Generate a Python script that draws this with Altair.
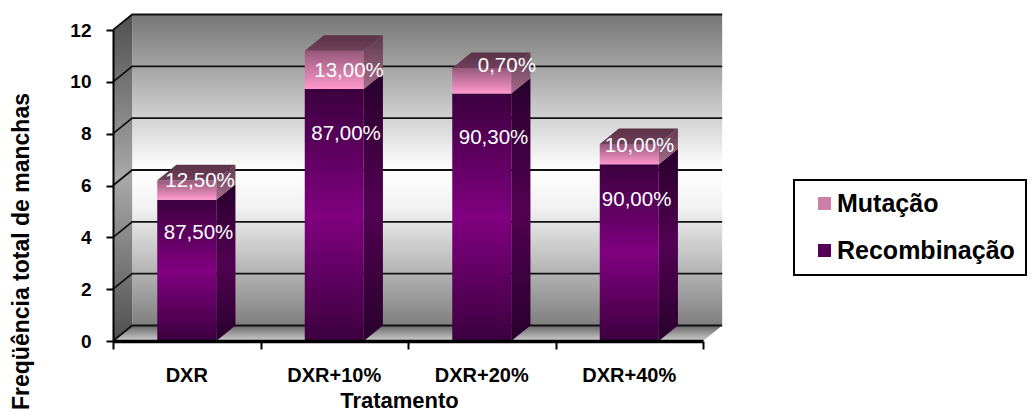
import altair as alt
import pandas as pd

categories = ["DXR", "DXR+10%", "DXR+20%", "DXR+40%"]
recombinacao = [5.45, 9.72, 9.55, 6.82]
mutacao = [0.75, 1.48, 0.98, 0.78]
rec_labels = ["87,50%", "87,00%", "90,30%", "90,00%"]
mut_labels = ["12,50%", "13,00%", "0,70%", "10,00%"]
rec_label_at = [4.17, 7.99, 7.84, 5.44]
mut_label_at = [6.18, 10.42, 10.6, 7.53]
rec_label_shift = [0.08, 0.08, 0.08, 0.05]
mut_label_shift = [0.09, 0.10, 0.17, 0.07]
y_ticks = [0, 2, 4, 6, 8, 10, 12]
x_ticks = [0, 1, 2, 3, 4]
legend_names = ["Mutação", "Recombinação"]

DX, DY = 0.13, 0.598
BL, BR = 0.30, 0.70
FONT = "Liberation Sans"
xs = alt.Scale(domain=[0, 4], nice=False, zero=False)
ys = alt.Scale(domain=[0, 12], nice=False)


def grad(*stops):
    return alt.Gradient(
        gradient="linear", x1=0, x2=0, y1=0, y2=1,
        stops=[alt.GradientStop(offset=o, color=c) for o, c in stops],
    )


def X(**k):
    return alt.X("x:Q", scale=xs, **k)


def Y(**k):
    return alt.Y("y:Q", scale=ys, stack=None, **k)


def area(rows, fill):
    return alt.Chart(pd.DataFrame(rows)).mark_area(color=fill, interpolate="linear", clip=False).encode(
        x=X(), y=Y(), y2="y2:Q", detail="id:N"
    )


def rect(rows, fill):
    return alt.Chart(pd.DataFrame(rows)).mark_rect(color=fill).encode(
        x=X(), x2="x2:Q", y=Y(), y2="y2:Q"
    )


# legend carrier + axes, hidden behind the back wall
legend_df = pd.DataFrame({"x": [1.0, 1.0], "y": [6.0, 6.0], "s": legend_names})
axes = alt.Chart(legend_df).mark_square(size=4, opacity=1).encode(
    x=alt.X("x:Q", scale=xs, axis=alt.Axis(
        values=x_ticks, labels=False, tickSize=8, tickWidth=2, tickColor="#000",
        domainColor="#000", domainWidth=3.5, grid=False, zindex=1,
        title="Tratamento", titleFont=FONT, titleFontSize=22, titleFontWeight="bold",
        titleColor="#000", titleX=286, titleY=66, titleBaseline="alphabetic", titleAnchor="middle", titleAlign="center")),
    y=alt.Y("y:Q", scale=ys, axis=alt.Axis(
        values=y_ticks, format="d", tickSize=7, tickWidth=2, tickColor="#000",
        domainColor="#000", domainWidth=2, grid=False, zindex=1,
        labelFont=FONT, labelFontSize=19, labelFontWeight="bold", labelColor="#000", labelPadding=15,
        title="Freqüência total de manchas", titleFont=FONT, titleFontSize=23, titleFontWeight="bold",
        titleColor="#000", titleX=-85, titleY=221, titleAngle=270, titleBaseline="alphabetic",
        titleAnchor="middle", titleAlign="center")),
    color=alt.Color("s:N", scale=alt.Scale(domain=legend_names, range=["#c97fa6", "#560058"]),
        legend=alt.Legend(
            title=None, orient="none", legendX=681, legendY=150, strokeColor="#000",
            fillColor="#fff", padding=11, symbolType="square", symbolSize=170, symbolOffset=7,
            labelFont=FONT, labelFontSize=25, labelFontWeight="bold", labelColor="#000",
            labelOffset=0, rowPadding=21, labelLimit=300, symbolStrokeWidth=0)),
)

wall_grad = grad((0, "#767676"), (0.5, "#ffffff"), (0.62, "#f2f2f2"), (1, "#7f7f7f"))
side_wall_grad = grad((0, "#505050"), (0.5, "#a8a8a8"), (1, "#505050"))
floor_grad = grad((0, "#666666"), (1, "#cfcfcf"))

back = rect([{"x": DX, "x2": 4 + DX, "y": DY, "y2": 12 + DY}], wall_grad)
left = area([
    {"id": "l", "x": 0, "y": 0, "y2": 12},
    {"id": "l", "x": DX, "y": DY, "y2": 12 + DY},
], side_wall_grad)
floor = area([
    {"id": "f", "x": 0, "y": 0, "y2": 0},
    {"id": "f", "x": DX, "y": 0, "y2": DY},
    {"id": "f", "x": 4, "y": 0, "y2": DY},
    {"id": "f", "x": 4 + DX, "y": DY, "y2": DY},
], floor_grad)

grid_rows = []
for v in y_ticks:
    grid_rows += [
        {"id": v, "x": 0, "y": v},
        {"id": v, "x": DX, "y": v + DY},
        {"id": v, "x": 4 + DX, "y": v + DY},
    ]
grid = alt.Chart(pd.DataFrame(grid_rows)).mark_line(color="#111", strokeWidth=1.8).encode(
    x=X(), y=Y(), detail="id:N"
)

layers = [axes, back, left, floor, grid]

for i, (r, m) in enumerate(zip(recombinacao, mutacao)):
    a, b = i + BL, i + BR
    t = r + m
    layers += [
        rect([{"x": a, "x2": b, "y": 0, "y2": r}],
             grad((0, "#3c003e"), (0.5, "#800080"), (1, "#3c003e"))),
        area([{"id": "s", "x": b, "y": 0, "y2": r},
              {"id": "s", "x": b + DX, "y": DY, "y2": r + DY}],
             grad((0, "#28002c"), (0.5, "#520052"), (1, "#28002c"))),
        rect([{"x": a, "x2": b, "y": r, "y2": t}],
             grad((0, "#96587a"), (1, "#ff99cc"))),
        area([{"id": "s", "x": b, "y": r, "y2": t},
              {"id": "s", "x": b + DX, "y": r + DY, "y2": t + DY}],
             grad((0, "#5c3a4c"), (1, "#a86c8c"))),
        area([{"id": "t", "x": a, "y": t, "y2": t},
              {"id": "t", "x": a + DX, "y": t, "y2": t + DY},
              {"id": "t", "x": b, "y": t, "y2": t + DY},
              {"id": "t", "x": b + DX, "y": t + DY, "y2": t + DY}],
             grad((0, "#5a3246"), (1, "#70405a"))),
    ]

label_df = pd.DataFrame({
    "x": [i + 0.5 + s for i, s in enumerate(rec_label_shift)] + [i + 0.5 + s for i, s in enumerate(mut_label_shift)],
    "y": rec_label_at + mut_label_at,
    "t": rec_labels + mut_labels,
})
labels = alt.Chart(label_df).mark_text(
    font=FONT, fontSize=20.5, color="#fff", align="center", baseline="middle"
).encode(x=X(), y=Y(), text="t:N")

cat_df = pd.DataFrame({"x": [i + 0.5 for i in range(len(categories))], "t": categories})
cats = alt.Chart(cat_df).mark_text(
    font=FONT, fontSize=20, fontWeight="bold", color="#000", align="center", baseline="middle"
).encode(x=X(), y=alt.value(346), text="t:N")

chart = alt.layer(*layers, labels, cats).properties(
    width=590, height=311,
    padding={"left": 105, "top": 22, "right": 324, "bottom": 70},
    autosize=alt.AutoSizeParams(type="none"),
    background="#ffffff",
).configure_view(stroke=None).configure_legend(strokeWidth=2).configure_axis(grid=False)

chart.save("out.html", embed_options={"renderer": "svg", "actions": False})
